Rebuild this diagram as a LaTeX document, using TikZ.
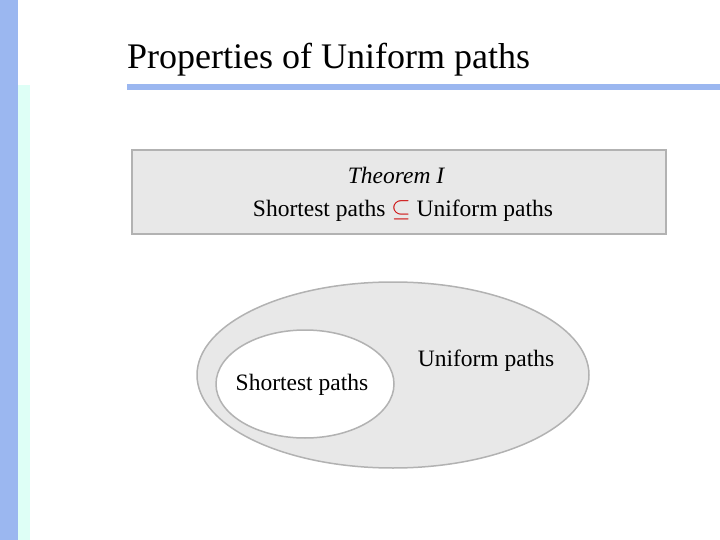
\documentclass[tikz,border=0pt]{standalone}
\usepackage{fontspec}
\setmainfont{Liberation Serif}
\definecolor{barblue}{RGB}{155,183,240}
\definecolor{barmint}{RGB}{222,255,246}
\tikzset{%
    panel/.style={draw=black!30,line width=2pt,fill=black!9},
    setline/.style={draw=black!30,line width=1.5pt},
    label/.style={font=\fontsize{23.5}{27}\selectfont},
}
\begin{document}
\begin{tikzpicture}[x=1pt,y=-1pt]
	\useasboundingbox (0,0) rectangle (720,540);
	
	%side bars
	\fill[barblue] (0,0) rectangle (18,540);
	\fill[barmint] (18,85) rectangle (30,540);
	\fill[barblue] (127,84) rectangle (720,90);
	
	\node[anchor=base west,inner sep=0pt,font=\fontsize{36}{40}\selectfont] (title) at (127,69) {Properties of Uniform paths};
	
	%theorem box
	\draw[panel] (132,150) rectangle (666,234);
	\node[label,font=\fontsize{23.5}{27}\selectfont\itshape] (thm) at (396,175) {Theorem I};
	\node[label] (stmt) at (403,211) {Shortest paths \textcolor{red!80!black}{$\subseteq$} Uniform paths};
	
	%sets
	\draw[setline,fill=black!9] (393,375) ellipse [x radius=196,y radius=93];
	\draw[setline,fill=white] (305,384) ellipse [x radius=89,y radius=54];
	\node[label] (uni) at (486,361) {Uniform paths};
	\node[label] (sho) at (302,385) {Shortest paths};
	
\end{tikzpicture}
\end{document}
